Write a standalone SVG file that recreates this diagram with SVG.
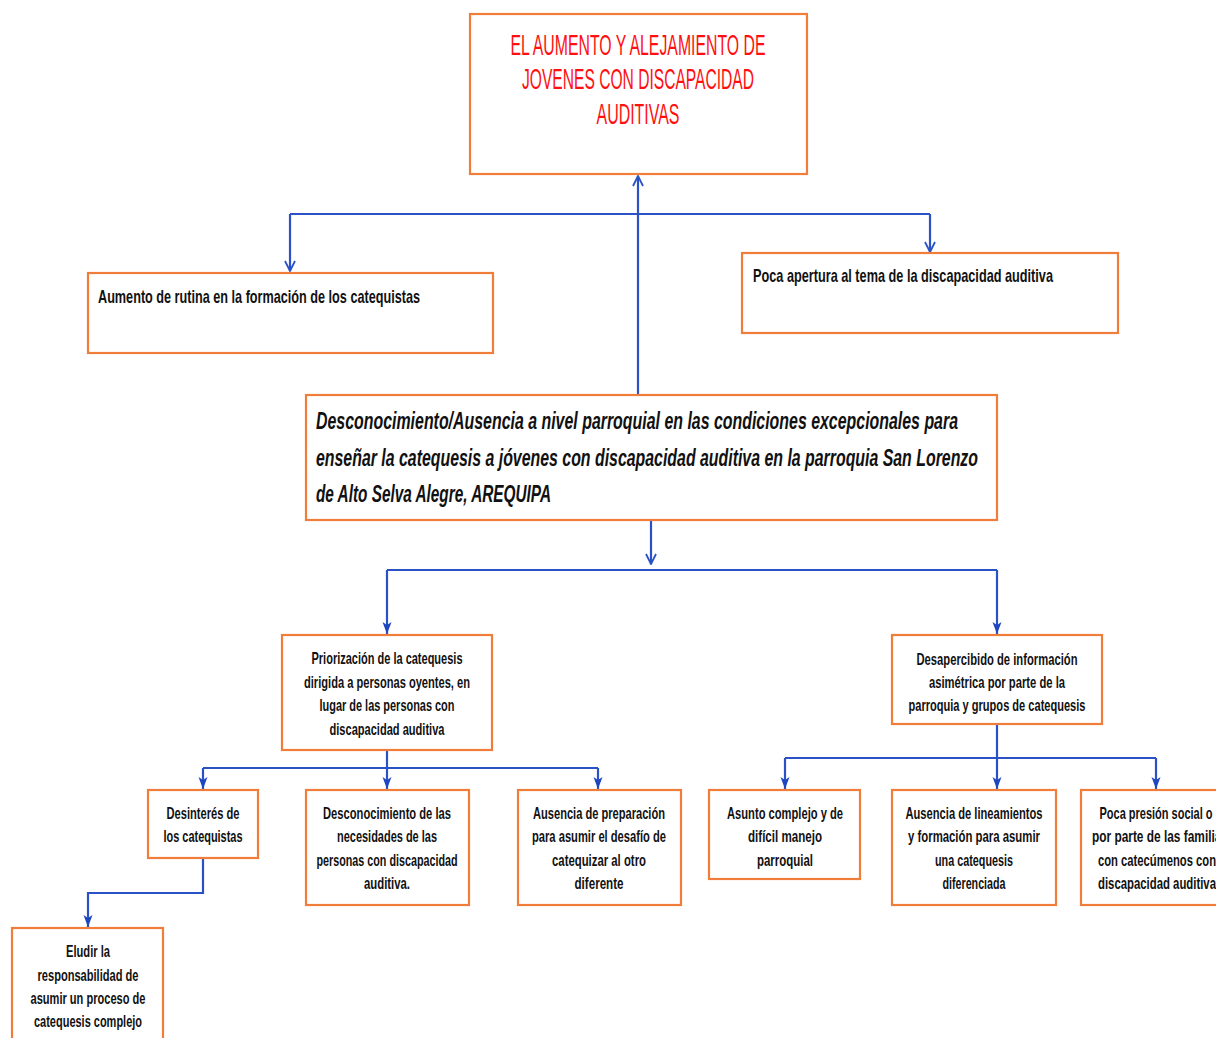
<svg xmlns="http://www.w3.org/2000/svg" width="1216" height="1038" viewBox="0 0 1216 1038">
<style>
.box{fill:#fff;stroke:#F07E3A;stroke-width:2.2}
.t{font-family:"Liberation Sans Narrow","Liberation Sans",Arial,sans-serif;font-weight:bold;fill:#111;font-size:17px}
.c{text-anchor:middle}
.title{font-family:"Liberation Sans Narrow","Liberation Sans",Arial,sans-serif;fill:#FF1010;font-size:29px;text-anchor:middle}
.main{font-family:"Liberation Sans Narrow","Liberation Sans",Arial,sans-serif;font-weight:bold;font-style:italic;fill:#111;font-size:23px}
.ln{fill:none;stroke:#2A52C6;stroke-width:2.2}
</style>
<defs>
<marker id="open" markerWidth="12" markerHeight="12" refX="11" refY="6" orient="auto" markerUnits="userSpaceOnUse" viewBox="0 0 12 12">
<path d="M1,1 L11,6 L1,11" fill="none" stroke="#2A52C6" stroke-width="1.8"/>
</marker>
<marker id="fill" markerWidth="12" markerHeight="10" refX="12" refY="5" orient="auto" markerUnits="userSpaceOnUse" viewBox="0 0 12 10">
<path d="M0,0.5 L12,5 L0,9.5 L3,5 Z" fill="#1E46C0"/>
</marker>
</defs>
<g id="connectors">
<path class="ln" d="M638,395 V176" marker-end="url(#open)"/>
<path class="ln" d="M290,214 H930"/>
<path class="ln" d="M290,214 V271" marker-end="url(#open)"/>
<path class="ln" d="M930,214 V252" marker-end="url(#open)"/>
<path class="ln" d="M651,520 V564" marker-end="url(#open)"/>
<path class="ln" d="M387,570 H997"/>
<path class="ln" d="M387,570 V634" marker-end="url(#fill)"/>
<path class="ln" d="M997,570 V634" marker-end="url(#fill)"/>
<path class="ln" d="M387,750 V768"/>
<path class="ln" d="M203,768 H598"/>
<path class="ln" d="M203,768 V789" marker-end="url(#fill)"/>
<path class="ln" d="M387,768 V789" marker-end="url(#fill)"/>
<path class="ln" d="M598,768 V789" marker-end="url(#fill)"/>
<path class="ln" d="M997,724 V758"/>
<path class="ln" d="M785,758 H1156"/>
<path class="ln" d="M785,758 V789" marker-end="url(#fill)"/>
<path class="ln" d="M997,758 V789" marker-end="url(#fill)"/>
<path class="ln" d="M1156,758 V789" marker-end="url(#fill)"/>
<path class="ln" d="M203,858 V893 H88 V927" marker-end="url(#fill)"/>
</g>
<g id="n-title">
<rect class="box" x="470" y="14" width="337" height="160"/>
<text class="title" x="638" y="55" textLength="255" lengthAdjust="spacingAndGlyphs">EL AUMENTO Y ALEJAMIENTO DE</text>
<text class="title" x="638" y="89" textLength="232" lengthAdjust="spacingAndGlyphs">JOVENES CON DISCAPACIDAD</text>
<text class="title" x="638" y="124" textLength="83" lengthAdjust="spacingAndGlyphs">AUDITIVAS</text>
</g>
<g id="n-rutina">
<rect class="box" x="88" y="273" width="405" height="80"/>
<text class="t" x="98" y="303" style="font-size:19px" textLength="322" lengthAdjust="spacingAndGlyphs">Aumento de rutina en la formación de los catequistas</text>
</g>
<g id="n-apertura">
<rect class="box" x="742" y="253" width="376" height="80"/>
<text class="t" x="753" y="282" style="font-size:19px" textLength="300" lengthAdjust="spacingAndGlyphs">Poca apertura  al tema de la discapacidad auditiva</text>
</g>
<g id="n-central">
<rect class="box" x="306" y="395" width="691" height="125"/>
<text class="main" x="316" y="429" textLength="642" lengthAdjust="spacingAndGlyphs">Desconocimiento/Ausencia a nivel parroquial en  las condiciones excepcionales para</text>
<text class="main" x="316" y="466" textLength="662" lengthAdjust="spacingAndGlyphs">enseñar la catequesis a jóvenes con discapacidad auditiva en la parroquia San Lorenzo</text>
<text class="main" x="316" y="502" textLength="235" lengthAdjust="spacingAndGlyphs">de Alto Selva Alegre, AREQUIPA</text>
</g>
<g id="n-priorizacion">
<rect class="box" x="282" y="635" width="210" height="115"/>
<text class="t c" x="387" y="664" textLength="151" lengthAdjust="spacingAndGlyphs">Priorización de la catequesis</text>
<text class="t c" x="387" y="688" textLength="166" lengthAdjust="spacingAndGlyphs">dirigida a personas oyentes, en</text>
<text class="t c" x="387" y="711" textLength="135" lengthAdjust="spacingAndGlyphs">lugar de las personas con</text>
<text class="t c" x="387" y="735" textLength="115" lengthAdjust="spacingAndGlyphs">discapacidad auditiva</text>
</g>
<g id="n-desapercibido">
<rect class="box" x="892" y="635" width="210" height="89"/>
<text class="t c" x="997" y="665" textLength="161" lengthAdjust="spacingAndGlyphs">Desapercibido de información</text>
<text class="t c" x="997" y="688" textLength="136" lengthAdjust="spacingAndGlyphs">asimétrica por parte de la</text>
<text class="t c" x="997" y="711" textLength="177" lengthAdjust="spacingAndGlyphs">parroquia y grupos de catequesis</text>
</g>
<g id="n-desinteres">
<rect class="box" x="148" y="790" width="110" height="68"/>
<text class="t c" x="203" y="819" textLength="73" lengthAdjust="spacingAndGlyphs">Desinterés de</text>
<text class="t c" x="203" y="842" textLength="79" lengthAdjust="spacingAndGlyphs">los catequistas</text>
</g>
<g id="n-necesidades">
<rect class="box" x="306" y="790" width="163" height="115"/>
<text class="t c" x="387" y="819" textLength="128" lengthAdjust="spacingAndGlyphs">Desconocimiento de las</text>
<text class="t c" x="387" y="842" textLength="100" lengthAdjust="spacingAndGlyphs">necesidades de las</text>
<text class="t c" x="387" y="866" textLength="141" lengthAdjust="spacingAndGlyphs">personas con discapacidad</text>
<text class="t c" x="387" y="889" textLength="46" lengthAdjust="spacingAndGlyphs">auditiva.</text>
</g>
<g id="n-preparacion">
<rect class="box" x="518" y="790" width="163" height="115"/>
<text class="t c" x="599" y="819" textLength="132" lengthAdjust="spacingAndGlyphs">Ausencia de preparación</text>
<text class="t c" x="599" y="842" textLength="134" lengthAdjust="spacingAndGlyphs">para asumir el desafío de</text>
<text class="t c" x="599" y="866" textLength="94" lengthAdjust="spacingAndGlyphs">catequizar al otro</text>
<text class="t c" x="599" y="889" textLength="49" lengthAdjust="spacingAndGlyphs">diferente</text>
</g>
<g id="n-asunto">
<rect class="box" x="709" y="790" width="151" height="89"/>
<text class="t c" x="785" y="819" textLength="116" lengthAdjust="spacingAndGlyphs">Asunto complejo y de</text>
<text class="t c" x="785" y="842" textLength="74" lengthAdjust="spacingAndGlyphs">difícil manejo</text>
<text class="t c" x="785" y="866" textLength="56" lengthAdjust="spacingAndGlyphs">parroquial</text>
</g>
<g id="n-lineamientos">
<rect class="box" x="892" y="790" width="164" height="115"/>
<text class="t c" x="974" y="819" textLength="137" lengthAdjust="spacingAndGlyphs">Ausencia de lineamientos</text>
<text class="t c" x="974" y="842" textLength="132" lengthAdjust="spacingAndGlyphs">y formación para asumir</text>
<text class="t c" x="974" y="866" textLength="78" lengthAdjust="spacingAndGlyphs">una catequesis</text>
<text class="t c" x="974" y="889" textLength="63" lengthAdjust="spacingAndGlyphs">diferenciada</text>
</g>
<g id="n-presion">
<rect class="box" x="1081" y="790" width="160" height="115"/>
<text class="t c" x="1156" y="819" textLength="113" lengthAdjust="spacingAndGlyphs">Poca presión social o</text>
<text class="t c" x="1160" y="842" textLength="136" lengthAdjust="spacingAndGlyphs">por parte de las familias</text>
<text class="t c" x="1157" y="866" textLength="118" lengthAdjust="spacingAndGlyphs">con catecúmenos con</text>
<text class="t c" x="1157" y="889" textLength="118" lengthAdjust="spacingAndGlyphs">discapacidad auditiva</text>
</g>
<g id="n-eludir">
<rect class="box" x="12" y="928" width="151" height="120"/>
<text class="t c" x="88" y="957" textLength="44" lengthAdjust="spacingAndGlyphs">Eludir la</text>
<text class="t c" x="88" y="981" textLength="101" lengthAdjust="spacingAndGlyphs">responsabilidad de</text>
<text class="t c" x="88" y="1004" textLength="115" lengthAdjust="spacingAndGlyphs">asumir un proceso de</text>
<text class="t c" x="88" y="1027" textLength="108" lengthAdjust="spacingAndGlyphs">catequesis complejo</text>
</g>
</svg>
